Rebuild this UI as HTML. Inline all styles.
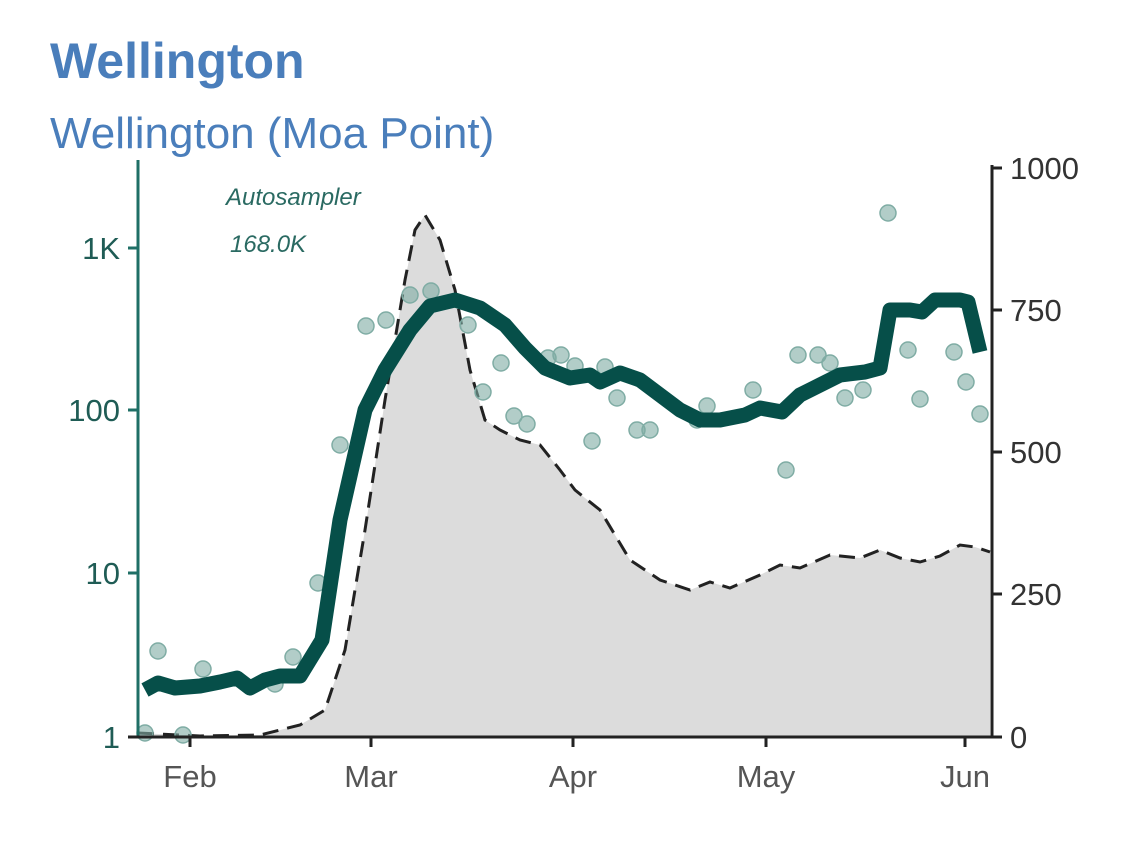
<!DOCTYPE html>
<html><head><meta charset="utf-8"><style>
body{margin:0;background:#fff;width:1148px;height:838px;overflow:hidden;font-family:"Liberation Sans",sans-serif}
</style></head><body>
<svg width="1148" height="838" xmlns="http://www.w3.org/2000/svg">
<text x="50" y="78" font-family="Liberation Sans" font-weight="bold" font-size="50" fill="#4a7ebb">Wellington</text>
<text x="50" y="148" font-family="Liberation Sans" font-size="44" fill="#4a7ebb">Wellington (Moa Point)</text>
<path d="M138,737 L138,733 L200,736 L260,735 L300,725 L325,710 L345,650 L365,530 L385,400 L405,280 L415,230 L425,215 L440,240 L455,290 L470,370 L485,420 L500,430 L520,440 L540,445 L560,470 L575,490 L600,510 L630,560 L660,580 L690,590 L710,582 L730,588 L760,575 L780,565 L800,568 L830,555 L860,558 L880,550 L900,558 L920,562 L940,556 L960,545 L975,547 L990,552 L990,737 Z" fill="#dcdcdc"/>
<path d="M138,733 L200,736 L260,735 L300,725 L325,710 L345,650 L365,530 L385,400 L405,280 L415,230 L425,215 L440,240 L455,290 L470,370 L485,420 L500,430 L520,440 L540,445 L560,470 L575,490 L600,510 L630,560 L660,580 L690,590 L710,582 L730,588 L760,575 L780,565 L800,568 L830,555 L860,558 L880,550 L900,558 L920,562 L940,556 L960,545 L975,547 L990,552" fill="none" stroke="#222" stroke-width="3" stroke-dasharray="16,9"/>
<g fill="#7faca4" fill-opacity="0.6" stroke="#7faca4" stroke-width="1.5">
<circle cx="145" cy="733" r="8"/><circle cx="158" cy="651" r="8"/><circle cx="183" cy="735" r="8"/><circle cx="203" cy="669" r="8"/><circle cx="275" cy="684" r="8"/><circle cx="293" cy="657" r="8"/><circle cx="318" cy="583" r="8"/><circle cx="340" cy="445" r="8"/><circle cx="366" cy="326" r="8"/><circle cx="386" cy="320" r="8"/><circle cx="410" cy="295" r="8"/><circle cx="431" cy="291" r="8"/><circle cx="468" cy="325" r="8"/><circle cx="483" cy="392" r="8"/><circle cx="501" cy="363" r="8"/><circle cx="514" cy="416" r="8"/><circle cx="527" cy="424" r="8"/><circle cx="548" cy="358" r="8"/><circle cx="561" cy="355" r="8"/><circle cx="575" cy="366" r="8"/><circle cx="592" cy="441" r="8"/><circle cx="605" cy="367" r="8"/><circle cx="617" cy="398" r="8"/><circle cx="637" cy="430" r="8"/><circle cx="650" cy="430" r="8"/><circle cx="697" cy="420" r="8"/><circle cx="707" cy="406" r="8"/><circle cx="753" cy="390" r="8"/><circle cx="786" cy="470" r="8"/><circle cx="798" cy="355" r="8"/><circle cx="818" cy="355" r="8"/><circle cx="830" cy="363" r="8"/><circle cx="845" cy="398" r="8"/><circle cx="863" cy="390" r="8"/><circle cx="888" cy="213" r="8"/><circle cx="908" cy="350" r="8"/><circle cx="920" cy="399" r="8"/><circle cx="954" cy="352" r="8"/><circle cx="966" cy="382" r="8"/><circle cx="980" cy="414" r="8"/>
</g>
<polyline points="145,690 158,683 175,688 200,686 220,682 237,678 250,688 265,680 280,676 300,676 322,640 340,520 365,410 385,370 410,330 430,306 455,300 480,308 505,325 525,348 545,368 570,378 590,375 600,382 620,373 640,380 660,395 680,410 700,420 720,420 745,415 760,408 782,412 800,395 820,385 840,375 865,372 880,368 890,310 910,310 922,312 935,300 960,300 968,302 980,352" fill="none" stroke="#064f49" stroke-width="15" stroke-linejoin="round"/>
<text x="226" y="205" font-size="24" font-style="italic" fill="#2a6a62">Autosampler</text>
<text x="230" y="252" font-size="24" font-style="italic" fill="#2a6a62">168.0K</text>
<line x1="138" y1="160" x2="138" y2="737" stroke="#1f6f66" stroke-width="3"/>
<line x1="128" y1="737" x2="992" y2="737" stroke="#222" stroke-width="3"/>
<line x1="992" y1="165" x2="992" y2="737" stroke="#222" stroke-width="3"/>
<g stroke="#1f6f66" stroke-width="3"><line x1="128" y1="248" x2="138" y2="248"/><line x1="128" y1="410" x2="138" y2="410"/><line x1="128" y1="573" x2="138" y2="573"/></g>
<g font-size="31" fill="#1f5c55" text-anchor="end"><text x="120" y="259">1K</text><text x="120" y="421">100</text><text x="120" y="584">10</text><text x="120" y="748">1</text></g>
<g stroke="#222" stroke-width="3"><line x1="992" y1="168" x2="1002" y2="168"/><line x1="992" y1="310" x2="1002" y2="310"/><line x1="992" y1="452" x2="1002" y2="452"/><line x1="992" y1="594" x2="1002" y2="594"/><line x1="992" y1="737" x2="1002" y2="737"/>
<line x1="190" y1="737" x2="190" y2="747"/><line x1="371" y1="737" x2="371" y2="747"/><line x1="573" y1="737" x2="573" y2="747"/><line x1="766" y1="737" x2="766" y2="747"/><line x1="965" y1="737" x2="965" y2="747"/></g>
<g font-size="31" fill="#333"><text x="1010" y="179">1000</text><text x="1010" y="321">750</text><text x="1010" y="463">500</text><text x="1010" y="605">250</text><text x="1010" y="748">0</text></g>
<g font-size="31" fill="#555" text-anchor="middle"><text x="190" y="787">Feb</text><text x="371" y="787">Mar</text><text x="573" y="787">Apr</text><text x="766" y="787">May</text><text x="965" y="787">Jun</text></g>
</svg>
</body></html>
